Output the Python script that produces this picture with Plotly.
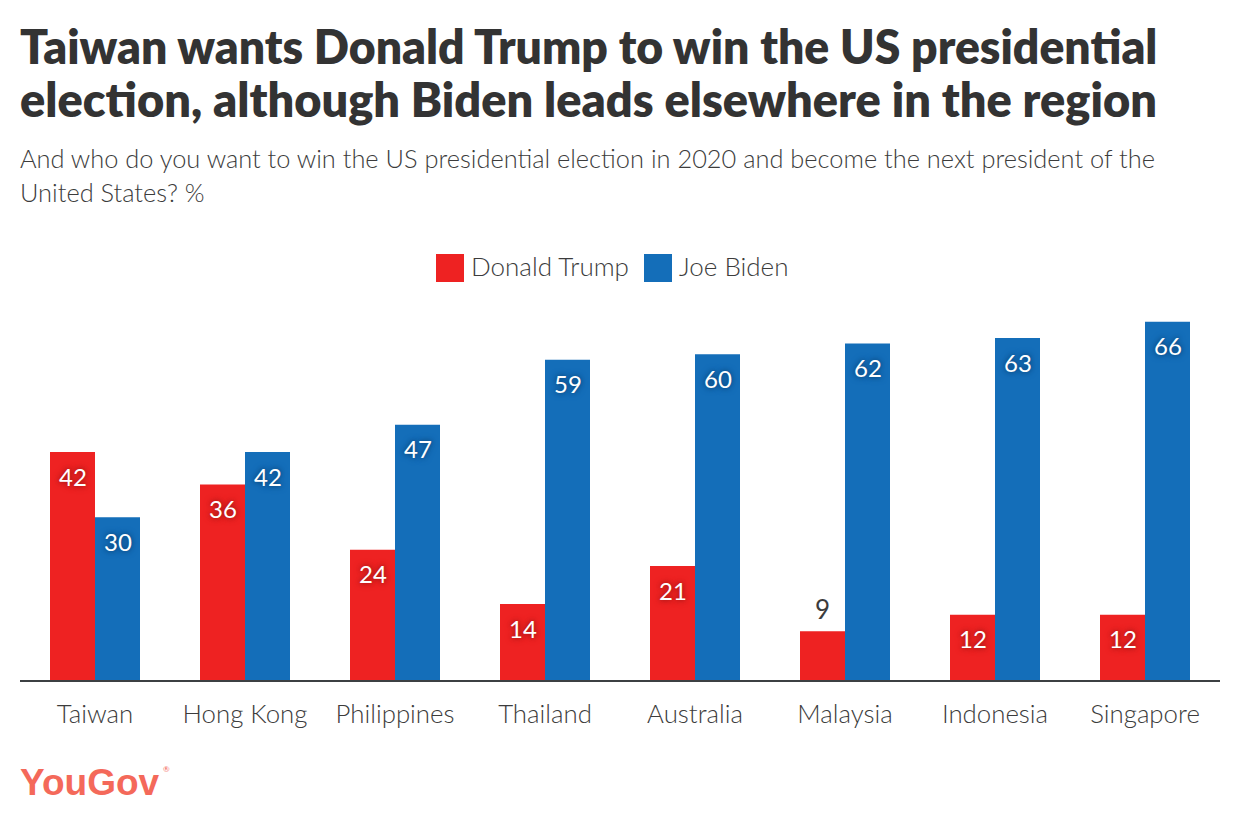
#!/usr/bin/env python3

import plotly.graph_objs as go

FONT = "Lato"
DARK = "#333333"
TEXT = "#3c3c3c"

countries = ["Taiwan", "Hong Kong", "Philippines", "Thailand", "Australia", "Malaysia", "Indonesia", "Singapore"]
trump = [42, 36, 24, 14, 21, 9, 12, 12]
biden = [30, 42, 47, 59, 60, 62, 63, 66]

title_lines = ["Taiwan wants Donald Trump to win the US presidential",
               "election, although Biden leads elsewhere in the region"]
subtitle_lines = ["And who do you want to win the US presidential election in 2020 and become the next president of the",
                  "United States? %"]

RED = "#ee2222"
BLUE = "#146eb9"
LOGO = "#f4695a"

# the page body keeps its 8px margin, so the figure starts at 8,8 in the window
PAGE_MARGIN = 8
LEFT, RIGHT, TOP, BOTTOM = 20, 1220, 300, 680


def px(x):
    return (x - LEFT) / (RIGHT - LEFT)


def py(y):
    return (BOTTOM - y) / (BOTTOM - TOP)


def label(text, x, y, size, color=TEXT, weight=300, family=FONT, anchor="left"):
    # annotations carry about 2px of padding around the text
    fig.add_annotation(text=text, xref="paper", yref="paper", x=px(x - 2), y=py(y - 1.5),
                       xanchor=anchor, yanchor="middle", showarrow=False,
                       font=dict(family=family, size=size, color=color, weight=weight))


fig = go.Figure()
fig.add_trace(go.Bar(x=countries, y=trump, name="Donald Trump", marker=dict(color=RED, line=dict(width=0))))
fig.add_trace(go.Bar(x=countries, y=biden, name="Joe Biden", marker=dict(color=BLUE, line=dict(width=0))))

fig.update_layout(width=1240 - PAGE_MARGIN, height=840 - PAGE_MARGIN,
                  margin=dict(l=LEFT - PAGE_MARGIN, r=1240 - RIGHT, t=TOP - PAGE_MARGIN, b=840 - BOTTOM, pad=0),
                  paper_bgcolor="white", plot_bgcolor="white", barmode="group", bargap=0.4, bargroupgap=0,
                  showlegend=False, font=dict(family=FONT, color=TEXT),
                  xaxis=dict(showline=True, linecolor="#3c4043", linewidth=2, ticks="", showgrid=False,
                             tickfont=dict(family=FONT, size=25.8, color=TEXT, weight=300), ticklabelstandoff=10),
                  yaxis=dict(range=[0, 70], visible=False))

# value labels, sit lower in the bar than plotly's inside text would
for values, shift, shadow in [(trump, -22.5, "0 0 4px #a81818, 0 0 7px #a81818"),
                              (biden, 22.5, "0 0 4px #0c4a80, 0 0 7px #0c4a80")]:
    for country, value in zip(countries, values):
        inside = value >= 10
        fig.add_annotation(text=str(value), x=country, y=value, xref="x", yref="y", showarrow=False,
                           xshift=shift, yshift=-24 if inside else 22, xanchor="center", yanchor="middle",
                           font=dict(family=FONT, size=24 if inside else 26, color="white" if inside else TEXT,
                                     weight=400, shadow=shadow if inside else "none"))

for line, y, size in zip(title_lines, [47, 100], [46.3, 46.9]):
    label(line, 20, y, size, color=DARK, weight=800)
for line, y in zip(subtitle_lines, [160, 193]):
    label(line, 20, y, 25.4)

# legend built by hand, the swatches are bigger than plotly's own
for name, colour, x0, x_text in [("Donald Trump", RED, 436, 471), ("Joe Biden", BLUE, 644, 679)]:
    fig.add_shape(type="rect", xref="paper", yref="paper", x0=px(x0), x1=px(x0 + 28),
                  y0=py(282), y1=py(254), fillcolor=colour, line=dict(width=0))
    label(name, x_text, 268, 26)

# logo
label("YouGov", 20, 784, 37, color=LOGO, weight=700, family="Liberation Sans")
label("®", 168, 770, 8, color=LOGO, weight=400, anchor="center")

fig.write_html("out.html")
